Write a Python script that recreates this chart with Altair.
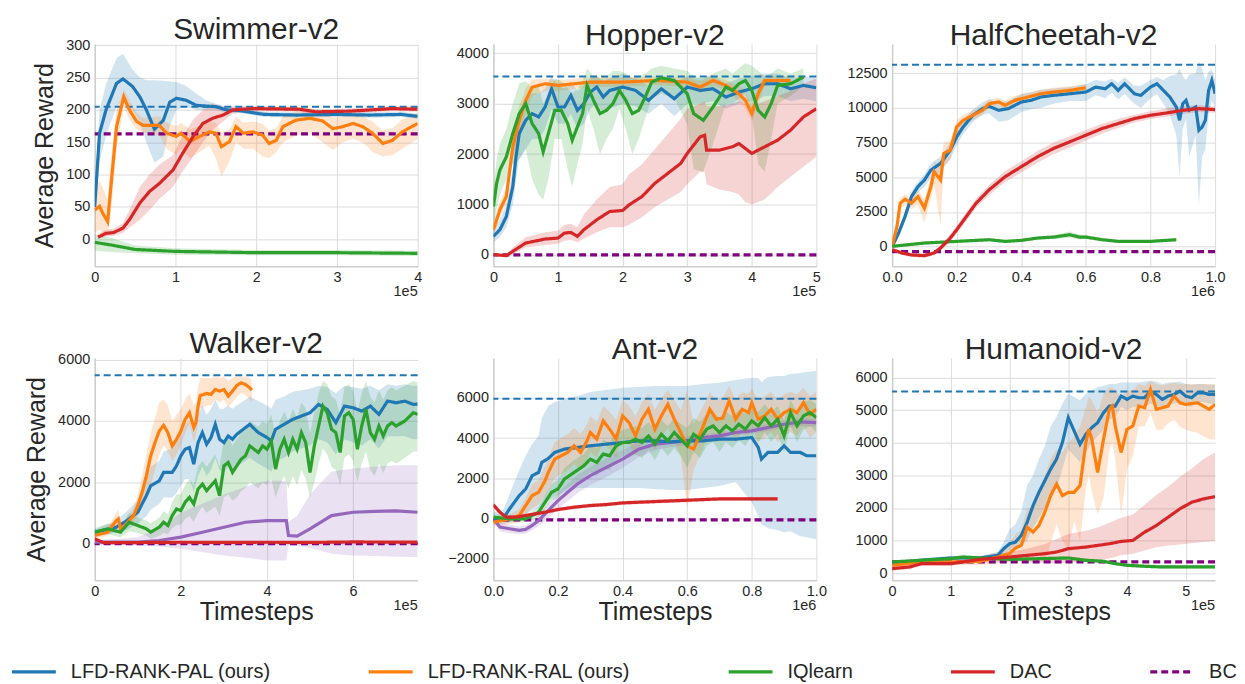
import altair as alt
import pandas as pd

FONT = "Liberation Sans"
TXT = "#262626"
METHODS = ["LFD-RANK-PAL (ours)", "LFD-RANK-RAL (ours)", "IQlearn", "DAC", "BC"]
COLORS = ["#1f77b4", "#ff7f0e", "#2ca02c", "#d62728", "#800080"]
DASHES = [[1, 0], [1, 0], [1, 0], [1, 0], [7, 4]]
WIDTHS = [3.2, 3.2, 3.2, 3.2, 2]
OTHER_COLOR = "#9467bd"
EXPERT_COLOR = "#1f77b4"

# ---------------- Swimmer-v2 (x in 1e5 steps) ----------------
SW_PAL_X = [0, 0.06, 0.14, 0.27, 0.35, 0.47, 0.56, 0.64, 0.74, 0.85, 0.93, 1.01, 1.13, 1.26, 1.38, 1.5, 1.63, 1.79, 2.1, 2.5, 3.0, 3.4, 3.8, 4.0]
SW_PAL = [50, 164, 200, 241, 248, 236, 220, 200, 170, 184, 212, 218, 215, 207, 206, 205, 200, 199, 193, 192, 193, 192, 193, 190]
SW_PAL_LO = [30, 120, 160, 205, 215, 200, 180, 150, 118, 128, 175, 200, 205, 200, 200, 200, 196, 195, 189, 188, 189, 188, 189, 186]
SW_PAL_HI = [65, 200, 240, 280, 287, 262, 250, 246, 246, 245, 244, 243, 237, 225, 215, 210, 205, 203, 197, 196, 197, 196, 197, 194]
SW_RAL_X = [0, 0.06, 0.1, 0.16, 0.2, 0.27, 0.36, 0.43, 0.52, 0.6, 0.8, 0.89, 1.01, 1.07, 1.18, 1.3, 1.42, 1.5, 1.57, 1.67, 1.75, 1.84, 1.96, 2.08, 2.16, 2.25, 2.33, 2.49, 2.66, 2.82, 2.95, 3.07, 3.2, 3.32, 3.44, 3.57, 3.69, 3.81, 4.0]
SW_RAL = [45, 51, 40, 27, 81, 174, 220, 200, 182, 176, 176, 164, 159, 164, 151, 159, 166, 164, 143, 151, 174, 164, 166, 161, 148, 153, 174, 184, 187, 183, 171, 174, 179, 174, 164, 148, 153, 166, 179]
SW_RAL_LO = [10, 15, 10, 5, 40, 140, 205, 185, 170, 165, 160, 140, 130, 140, 125, 135, 145, 125, 97, 120, 150, 140, 140, 128, 125, 135, 150, 160, 165, 150, 138, 150, 155, 150, 135, 128, 130, 140, 155]
SW_RAL_HI = [85, 90, 80, 60, 120, 200, 232, 215, 195, 188, 190, 180, 175, 180, 170, 175, 182, 180, 165, 170, 190, 180, 182, 178, 168, 172, 190, 198, 200, 197, 188, 190, 195, 190, 182, 168, 172, 185, 195]
SW_IQ_X = [0, 0.2, 0.5, 1.0, 2.0, 3.0, 4.0]
SW_IQ = [-5, -9, -16, -19, -21, -21, -22]
SW_IQ_LO = [-18, -20, -22, -24, -25, -25, -26]
SW_IQ_HI = [8, 2, -10, -14, -17, -17, -18]
SW_DAC_X = [0.04, 0.14, 0.23, 0.35, 0.43, 0.56, 0.68, 0.8, 0.97, 1.09, 1.22, 1.34, 1.46, 1.59, 1.71, 1.96, 2.54, 2.74, 3.15, 3.69, 4.0]
SW_DAC = [3, 9, 10, 17, 30, 56, 74, 86, 107, 133, 159, 179, 187, 192, 200, 202, 201, 197, 198, 202, 201]
SW_DAC_LO = [0, 4, 5, 10, 18, 30, 45, 62, 81, 105, 128, 150, 169, 182, 194, 198, 197, 193, 194, 198, 197]
SW_DAC_HI = [8, 14, 16, 25, 45, 81, 100, 115, 130, 160, 185, 200, 210, 205, 206, 206, 205, 201, 202, 206, 205]
SW_EXPERT, SW_BC = 205, 163

# ---------------- Hopper-v2 (x in 1e5) ----------------
HO_PAL_X = [0, 0.1, 0.2, 0.3, 0.35, 0.4, 0.5, 0.6, 0.7, 0.8, 0.9, 1.0, 1.1, 1.2, 1.3, 1.4, 1.5, 1.6, 1.7, 1.8, 2.0, 2.2, 2.4, 2.6, 2.8, 3.0, 3.2, 3.4, 3.6, 3.8, 4.0, 4.2, 4.4, 4.6, 4.8, 5.0]
HO_PAL = [368, 500, 763, 1355, 1947, 2408, 2671, 2803, 2737, 2934, 3296, 2934, 2934, 3164, 2868, 3000, 3230, 3329, 3131, 3263, 3329, 3263, 3066, 3296, 3098, 3329, 3263, 3296, 3131, 3230, 3296, 3395, 3395, 3296, 3362, 3316]
HO_PAL_LO = [250, 350, 550, 1000, 1500, 1900, 2100, 2300, 2300, 2500, 2900, 2600, 2600, 2800, 2500, 2600, 2900, 3000, 2800, 2900, 3000, 2950, 2800, 3000, 2750, 3000, 3000, 3050, 2900, 3000, 3050, 3150, 3150, 3050, 3100, 3050]
HO_PAL_HI = [500, 700, 1000, 1700, 2400, 2800, 3100, 3200, 3200, 3300, 3550, 3350, 3300, 3450, 3250, 3350, 3500, 3550, 3450, 3500, 3600, 3500, 3350, 3550, 3400, 3550, 3500, 3550, 3400, 3500, 3550, 3600, 3600, 3500, 3550, 3500]
HO_RAL_X = [0, 0.1, 0.2, 0.3, 0.4, 0.5, 0.6, 0.8, 1.0, 1.5, 2.0, 2.5, 3.0, 3.2, 3.4, 3.6, 3.8, 3.9, 4.0, 4.1, 4.2, 4.6]
HO_RAL = [500, 895, 1158, 2145, 2671, 3066, 3329, 3395, 3362, 3428, 3428, 3460, 3428, 3329, 3460, 3362, 3197, 3066, 2803, 3197, 3460, 3460]
HO_RAL_LO = [400, 750, 1000, 1900, 2400, 2800, 3150, 3250, 3250, 3330, 3330, 3370, 3330, 3200, 3360, 3250, 3050, 2900, 2650, 3000, 3350, 3380]
HO_RAL_HI = [650, 1050, 1350, 2400, 2950, 3300, 3480, 3500, 3470, 3520, 3520, 3540, 3520, 3450, 3560, 3470, 3350, 3250, 3000, 3350, 3550, 3540]
HO_IQ_X = [0, 0.05, 0.1, 0.2, 0.3, 0.4, 0.5, 0.6, 0.7, 0.77, 0.85, 0.95, 1.05, 1.15, 1.22, 1.3, 1.38, 1.45, 1.55, 1.65, 1.75, 1.85, 1.95, 2.05, 2.15, 2.25, 2.35, 2.45, 2.6, 2.8, 3.0, 3.1, 3.25, 3.4, 3.5, 3.6, 3.7, 3.8, 3.9, 4.0, 4.1, 4.2, 4.3, 4.4, 4.6, 4.8]
HO_IQ = [960, 1421, 1684, 1947, 2408, 2803, 3000, 2605, 2408, 2046, 2408, 2868, 2868, 2605, 2276, 2539, 2803, 3362, 3066, 2803, 2868, 3000, 3263, 3066, 2803, 2868, 3131, 3428, 3513, 3460, 3197, 2803, 2671, 2934, 3131, 3329, 3263, 3395, 3460, 3263, 2868, 2737, 3000, 3362, 3395, 3526]
HO_IQ_LO = [600, 900, 1200, 1500, 1800, 1900, 2100, 1500, 1200, 1100, 1500, 2300, 2300, 1700, 1350, 1800, 2200, 2900, 2500, 2000, 2300, 2500, 2900, 2500, 2000, 2300, 2700, 3100, 3200, 3100, 2600, 1700, 1650, 2200, 2600, 3000, 3000, 3100, 3200, 2800, 1800, 1650, 2300, 3000, 3150, 3350]
HO_IQ_HI = [1300, 1900, 2200, 2500, 3000, 3400, 3450, 3300, 3350, 3000, 3200, 3500, 3450, 3300, 3200, 3300, 3450, 3700, 3550, 3500, 3550, 3650, 3650, 3600, 3500, 3550, 3600, 3700, 3750, 3700, 3650, 3550, 3500, 3600, 3650, 3700, 3600, 3700, 3800, 3750, 3650, 3550, 3600, 3700, 3600, 3700]
HO_DAC_X = [0, 0.2, 0.3, 0.5, 0.8, 1.0, 1.1, 1.2, 1.3, 1.4, 1.6, 1.8, 2.0, 2.1, 2.3, 2.5, 2.7, 2.9, 3.0, 3.2, 3.27, 3.3, 3.5, 3.7, 3.8, 3.9, 4.0, 4.2, 4.4, 4.6, 4.8, 5.0]
HO_DAC = [7, -13, 72, 237, 316, 335, 434, 447, 368, 500, 697, 862, 882, 993, 1158, 1421, 1618, 1816, 2013, 2342, 2375, 2079, 2079, 2145, 2210, 2112, 2013, 2145, 2276, 2474, 2737, 2901]
HO_DAC_LO = [0, -20, 20, 150, 200, 220, 280, 300, 250, 320, 450, 550, 550, 600, 750, 950, 1100, 1250, 1400, 1650, 1650, 1400, 1300, 1250, 1200, 1050, 1000, 1100, 1350, 1550, 1750, 1950]
HO_DAC_HI = [20, 10, 150, 350, 450, 480, 600, 620, 550, 800, 1100, 1350, 1400, 1600, 1800, 2100, 2400, 2700, 2900, 3000, 3050, 2950, 2950, 3000, 3050, 3000, 2950, 3050, 3150, 3250, 3400, 3500]
HO_EXPERT, HO_BC = 3539, 0

# ---------------- HalfCheetah-v2 (x in 1e6) ----------------
HC_PAL_X = [0, 0.02, 0.04, 0.06, 0.08, 0.1, 0.12, 0.15, 0.18, 0.2, 0.22, 0.25, 0.28, 0.3, 0.33, 0.36, 0.4, 0.43, 0.46, 0.5, 0.55, 0.6, 0.63, 0.66, 0.68, 0.7, 0.72, 0.75, 0.77, 0.8, 0.82, 0.84, 0.86, 0.88, 0.89, 0.9, 0.91, 0.92, 0.94, 0.95, 0.96, 0.97, 0.98, 0.99, 1.0]
HC_PAL = [0, 980, 2175, 3609, 4326, 4804, 5521, 5999, 6955, 7911, 8628, 9465, 9943, 10110, 9823, 9943, 10421, 10540, 10779, 10899, 11018, 11138, 11496, 11377, 11735, 11257, 11735, 11018, 10899, 11496, 11735, 11257, 10779, 10062, 9106, 10301, 10540, 9823, 10062, 8389, 8628, 9106, 11257, 11974, 11018]
HC_PAL_LO = [-100, 700, 1800, 3200, 3900, 4300, 5000, 5400, 6300, 7300, 8100, 9000, 9500, 9600, 9000, 9100, 9700, 9900, 10000, 10300, 10500, 10500, 10900, 10700, 11100, 10600, 11000, 10300, 10000, 10700, 11000, 10300, 9500, 8000, 5000, 8500, 9200, 6500, 8000, 3000, 6500, 7000, 9500, 10500, 10000]
HC_PAL_HI = [100, 1300, 2500, 4000, 4700, 5200, 6000, 6500, 7500, 8400, 9100, 9900, 10400, 10600, 10400, 10500, 11000, 11100, 11300, 11400, 11500, 11700, 12000, 11900, 12100, 11800, 12200, 11600, 11600, 12000, 12200, 12000, 12300, 12400, 12800, 12300, 12000, 12400, 12500, 13400, 12800, 12000, 12600, 12800, 12000]
HC_RAL_X = [0, 0.015, 0.025, 0.04, 0.06, 0.08, 0.1, 0.12, 0.13, 0.15, 0.16, 0.18, 0.2, 0.22, 0.25, 0.28, 0.3, 0.33, 0.35, 0.38, 0.42, 0.46, 0.5, 0.55, 0.6]
HC_RAL = [0, 1458, 3131, 3418, 3131, 3609, 2772, 4326, 5402, 4804, 6716, 6955, 8628, 9106, 9465, 9823, 10301, 10421, 10182, 10540, 10779, 11018, 11138, 11257, 11448]
HC_RAL_LO = [-100, 1100, 2700, 3000, 2700, 3000, 1700, 3500, 4500, 1500, 5800, 6300, 8100, 8700, 9100, 9500, 10000, 10100, 9900, 10250, 10500, 10750, 10850, 10950, 11200]
HC_RAL_HI = [100, 1800, 3500, 3800, 3500, 4100, 3400, 5000, 6100, 6000, 7500, 7600, 9100, 9500, 9800, 10150, 10600, 10750, 10500, 10850, 11100, 11300, 11450, 11550, 11700]
HC_IQ_X = [0, 0.05, 0.1, 0.2, 0.3, 0.35, 0.4, 0.45, 0.5, 0.55, 0.58, 0.6, 0.65, 0.7, 0.8, 0.88]
HC_IQ = [24, 143, 263, 382, 502, 382, 454, 621, 693, 860, 693, 693, 502, 382, 382, 502]
HC_IQ_LO = [-80, 50, 160, 280, 400, 290, 350, 500, 560, 650, 520, 560, 400, 290, 290, 400]
HC_IQ_HI = [130, 240, 360, 480, 600, 480, 560, 740, 830, 1100, 880, 830, 620, 480, 480, 600]
HC_DAC_X = [0, 0.03, 0.06, 0.1, 0.13, 0.15, 0.18, 0.2, 0.23, 0.26, 0.3, 0.35, 0.4, 0.45, 0.5, 0.55, 0.6, 0.65, 0.7, 0.75, 0.8, 0.85, 0.9, 0.95, 1.0]
HC_DAC = [-215, -454, -597, -645, -454, -96, 621, 1219, 2175, 3131, 4087, 5043, 5760, 6477, 7075, 7553, 8031, 8509, 8868, 9226, 9465, 9632, 9823, 9943, 9871]
HC_DAC_LO = [-300, -600, -750, -800, -620, -300, 350, 950, 1850, 2800, 3700, 4650, 5350, 6050, 6650, 7150, 7650, 8150, 8550, 8950, 9200, 9350, 9550, 9700, 9650]
HC_DAC_HI = [-100, -300, -450, -500, -300, 100, 900, 1500, 2500, 3450, 4450, 5450, 6150, 6900, 7500, 7950, 8400, 8850, 9200, 9500, 9750, 9950, 10100, 10200, 10100]
HC_EXPERT, HC_BC = 13097, -358

# ---------------- Walker-v2 (x in 1e5) ----------------
WA_PAL_X = [0, 0.5, 0.75, 1.0, 1.2, 1.3, 1.5, 1.6, 1.8, 1.9, 2.0, 2.1, 2.2, 2.3, 2.4, 2.5, 2.6, 2.7, 2.8, 2.9, 3.0, 3.1, 3.2, 3.3, 3.4, 3.6, 3.8, 4.0, 4.1, 4.2, 4.4, 4.6, 4.8, 5.0, 5.2, 5.4, 5.6, 5.8, 6.0, 6.2, 6.4, 6.6, 6.8, 7.0, 7.2, 7.4, 7.5]
WA_PAL = [368, 531, 747, 1018, 1560, 1885, 2047, 2318, 2318, 2534, 2859, 3076, 3130, 2589, 3293, 3617, 3238, 3455, 3888, 3401, 3293, 3509, 3401, 3563, 3672, 3888, 3617, 3455, 3347, 3726, 3888, 4051, 4159, 4267, 4538, 4376, 3942, 4484, 4430, 4321, 4484, 4213, 4646, 4592, 4646, 4538, 4550]
WA_PAL_LO = [250, 350, 450, 650, 900, 1100, 1300, 1500, 1500, 1650, 1900, 2100, 2100, 1700, 2200, 2500, 2200, 2400, 2800, 2400, 2300, 2500, 2400, 2500, 2600, 2800, 2600, 2450, 2350, 2700, 2800, 3000, 3100, 3200, 3400, 3300, 2900, 3400, 3300, 3200, 3400, 3100, 3500, 3500, 3500, 3400, 3400]
WA_PAL_HI = [450, 750, 1050, 1400, 2100, 2500, 2700, 3000, 3100, 3400, 3700, 3900, 4000, 3600, 4200, 4500, 4200, 4400, 4700, 4400, 4400, 4500, 4400, 4500, 4600, 4800, 4650, 4500, 4400, 4700, 4800, 4950, 5000, 5050, 5150, 5100, 4900, 5150, 5100, 5050, 5150, 5000, 5200, 5150, 5200, 5150, 5150]
WA_RAL_X = [0, 0.3, 0.5, 0.55, 0.6, 0.7, 0.9, 1.0, 1.1, 1.2, 1.3, 1.4, 1.5, 1.6, 1.7, 1.8, 1.9, 2.0, 2.1, 2.2, 2.3, 2.35, 2.4, 2.45, 2.6, 2.7, 2.8, 2.9, 3.0, 3.1, 3.2, 3.3, 3.4, 3.5, 3.6, 3.65]
WA_RAL = [260, 368, 747, 801, 477, 585, 910, 1235, 1668, 2209, 2859, 3293, 3672, 3856, 3617, 3184, 3401, 3672, 4051, 4267, 3780, 3942, 4484, 4830, 4895, 4863, 5025, 4971, 5025, 4809, 4971, 5155, 5242, 5188, 5079, 5004]
WA_RAL_LO = [150, 250, 500, 550, 350, 450, 700, 900, 1200, 1600, 1900, 2400, 2900, 3200, 3000, 2700, 2900, 3200, 3600, 3900, 3300, 3500, 4000, 4400, 4500, 4500, 4700, 4600, 4700, 4450, 4600, 4800, 4900, 4850, 4700, 4600]
WA_RAL_HI = [400, 500, 1000, 1100, 650, 750, 1150, 1600, 2200, 2900, 3600, 4100, 4600, 4700, 4500, 4000, 4200, 4400, 4700, 4900, 4500, 4600, 5100, 5400, 5400, 5400, 5450, 5400, 5450, 5300, 5400, 5450, 5450, 5450, 5400, 5350]
WA_IQ_X = [0, 0.3, 0.6, 0.8, 1.0, 1.2, 1.3, 1.5, 1.6, 1.7, 1.8, 1.9, 2.0, 2.1, 2.2, 2.3, 2.4, 2.5, 2.6, 2.7, 2.8, 2.9, 3.0, 3.1, 3.2, 3.3, 3.4, 3.5, 3.6, 3.7, 3.8, 3.9, 4.0, 4.1, 4.2, 4.3, 4.4, 4.5, 4.6, 4.7, 4.8, 4.9, 5.0, 5.1, 5.2, 5.3, 5.4, 5.5, 5.6, 5.7, 5.8, 5.9, 6.0, 6.1, 6.2, 6.3, 6.4, 6.5, 6.6, 6.7, 6.8, 6.9, 7.0, 7.2, 7.4, 7.5]
WA_IQ = [368, 477, 368, 693, 585, 477, 368, 531, 693, 585, 910, 1126, 1072, 1343, 1505, 1289, 1776, 1939, 1722, 1885, 2047, 1560, 2534, 2643, 2318, 2534, 2751, 2859, 3184, 3076, 2968, 3184, 3076, 3347, 2426, 3076, 3401, 2968, 3401, 3076, 3617, 3293, 2318, 3184, 3834, 4484, 4267, 3726, 3617, 2968, 4159, 4267, 4051, 3076, 3834, 4376, 3617, 3401, 3834, 3509, 3834, 3942, 3834, 3996, 4267, 4213]
WA_IQ_LO = [250, 300, 200, 400, 350, 250, 150, 250, 350, 300, 500, 600, 600, 800, 900, 700, 1000, 1200, 1000, 1100, 1200, 900, 1500, 1600, 1400, 1500, 1700, 1800, 2000, 1900, 1800, 2000, 1900, 2100, 1500, 1900, 2200, 1800, 2200, 1900, 2400, 2100, 1500, 2000, 2600, 3100, 2900, 2500, 2400, 1900, 2800, 2900, 2700, 2000, 2600, 3000, 2400, 2200, 2600, 2300, 2600, 2700, 2600, 2800, 3000, 3000]
WA_IQ_HI = [500, 650, 550, 1000, 850, 750, 650, 850, 1050, 950, 1350, 1600, 1600, 1900, 2100, 1900, 2500, 2700, 2500, 2700, 2900, 2500, 3400, 3500, 3200, 3400, 3600, 3700, 4000, 3900, 3800, 4000, 3900, 4200, 3500, 4000, 4300, 4000, 4400, 4100, 4600, 4400, 3600, 4300, 4900, 5300, 5200, 4800, 4700, 4200, 5100, 5200, 5000, 4300, 4900, 5300, 4800, 4600, 5000, 4700, 5000, 5100, 5000, 5150, 5300, 5250]
WA_DAC_X = [0, 0.2, 1.0, 2.0, 3.0, 4.0, 5.0, 6.0, 7.0, 7.5]
WA_DAC = [152, 30, 30, 40, 35, 40, 35, 50, 45, 45]
WA_DAC_LO = [100, 0, 0, 10, 5, 10, 5, 20, 15, 15]
WA_DAC_HI = [200, 60, 60, 70, 65, 70, 65, 80, 75, 75]
WA_OTH_X = [0, 1.0, 1.5, 2.0, 2.5, 3.0, 3.5, 4.0, 4.45, 4.5, 4.7, 5.0, 5.5, 6.0, 6.5, 7.0, 7.5]
WA_OTH = [43, 43, 97, 206, 368, 531, 693, 747, 747, 260, 238, 477, 910, 1018, 1050, 1061, 1018]
WA_OTH_LO = [-20, -65, -100, -173, -280, -390, -470, -552, -560, -65, -80, -150, -336, -390, -410, -430, -444]
WA_OTH_HI = [100, 200, 500, 1000, 1300, 1600, 1850, 2047, 2050, 700, 900, 1600, 2350, 2450, 2500, 2550, 2550]
WA_EXPERT, WA_BC = 5491, -10

# ---------------- Ant-v2 (x in 1e6) ----------------
AN_PAL_X = [0, 0.03, 0.05, 0.08, 0.1, 0.12, 0.14, 0.15, 0.17, 0.19, 0.22, 0.26, 0.3, 0.35, 0.4, 0.45, 0.5, 0.55, 0.6, 0.65, 0.7, 0.75, 0.8, 0.82, 0.83, 0.85, 0.88, 0.9, 0.92, 0.95, 0.97, 1.0]
AN_PAL = [-33, -33, 464, 1127, 1459, 2122, 2287, 2785, 2984, 3282, 3448, 3531, 3613, 3696, 3779, 3862, 3862, 3812, 3862, 3862, 3945, 3945, 4028, 3531, 2950, 3282, 3282, 3613, 3282, 3282, 3116, 3116]
AN_PAL_LO = [-300, -300, -200, 0, 200, 400, 500, 700, 900, 1100, 1300, 1500, 1500, 1500, 1500, 1500, 1450, 1400, 1400, 1500, 1600, 1800, 800, 100, -300, -500, -600, -700, -650, -900, -950, -1050]
AN_PAL_HI = [300, 400, 1200, 2400, 3116, 3700, 4111, 5000, 5603, 5800, 5934, 6100, 6300, 6400, 6514, 6550, 6597, 6600, 6600, 6700, 6763, 6900, 7011, 7000, 6800, 7050, 7100, 7094, 7200, 7250, 7300, 7343]
AN_RAL_X = [0, 0.05, 0.08, 0.1, 0.12, 0.14, 0.16, 0.17, 0.19, 0.21, 0.23, 0.25, 0.27, 0.29, 0.3, 0.32, 0.34, 0.36, 0.38, 0.4, 0.42, 0.44, 0.46, 0.48, 0.5, 0.52, 0.54, 0.56, 0.58, 0.6, 0.62, 0.65, 0.67, 0.69, 0.71, 0.73, 0.75, 0.77, 0.79, 0.8, 0.82, 0.84, 0.86, 0.88, 0.9, 0.92, 0.94, 0.96, 0.98, 1.0]
AN_RAL = [-199, -33, 133, 630, 1127, 1293, 1873, 2287, 2950, 3116, 3282, 3613, 3282, 3862, 4276, 3945, 4857, 4442, 3945, 5105, 4774, 4111, 4940, 5437, 4442, 5105, 5686, 4940, 4276, 3613, 3448, 4608, 5437, 4940, 5000, 5851, 4940, 5437, 5271, 5768, 4940, 5105, 5437, 4940, 5271, 5437, 5271, 5768, 5188, 5437]
AN_RAL_LO = [-400, -300, -200, 200, 500, 700, 1100, 1400, 2000, 2200, 2400, 2700, 2400, 2900, 3300, 3000, 3800, 3400, 3000, 4000, 3700, 3100, 3800, 4300, 3400, 4000, 4500, 3800, 3100, 500, 2400, 3500, 4300, 3800, 3900, 4700, 3800, 4300, 4100, 4600, 3800, 4000, 4300, 3800, 4100, 4300, 4100, 4600, 4000, 4300]
AN_RAL_HI = [100, 200, 450, 1000, 1700, 1900, 2600, 3000, 3800, 4000, 4200, 4500, 4200, 4700, 5100, 4800, 5600, 5300, 4900, 5900, 5600, 5100, 5800, 6200, 5400, 6000, 6400, 5900, 5400, 6400, 4700, 5600, 6300, 5900, 6000, 6600, 5900, 6300, 6200, 6500, 5900, 6100, 6300, 5900, 6200, 6300, 6200, 6500, 6100, 6300]
AN_IQ_X = [0, 0.05, 0.1, 0.14, 0.16, 0.18, 0.2, 0.22, 0.25, 0.28, 0.3, 0.32, 0.34, 0.36, 0.38, 0.4, 0.42, 0.44, 0.46, 0.48, 0.5, 0.52, 0.54, 0.56, 0.58, 0.6, 0.62, 0.64, 0.66, 0.68, 0.7, 0.72, 0.74, 0.76, 0.78, 0.8, 0.82, 0.84, 0.86, 0.88, 0.9, 0.92, 0.94, 0.96, 0.98, 1.0]
AN_IQ = [50, -33, -33, 298, 796, 1293, 1459, 1956, 2287, 2619, 2950, 2785, 3199, 3116, 3613, 3779, 3779, 3945, 3779, 4111, 3696, 4194, 3862, 4276, 3945, 3613, 4194, 3945, 4442, 4608, 4276, 4608, 4359, 4691, 4442, 4857, 4608, 5022, 4608, 4940, 4111, 5271, 4608, 5105, 5271, 5022]
AN_IQ_LO = [-100, -200, -200, 50, 450, 900, 1000, 1400, 1700, 2000, 2300, 2100, 2500, 2400, 2900, 3100, 3000, 3200, 3000, 3400, 2900, 3500, 3100, 3500, 3100, 2500, 3300, 3000, 3600, 3800, 3300, 3800, 3500, 3900, 3600, 4100, 3800, 4300, 3800, 4200, 3300, 4600, 3800, 4400, 4600, 4300]
AN_IQ_HI = [200, 150, 150, 550, 1150, 1700, 1900, 2500, 2900, 3200, 3600, 3500, 3900, 3800, 4300, 4400, 4500, 4600, 4500, 4800, 4400, 4900, 4600, 5000, 4700, 4500, 5000, 4800, 5200, 5300, 5000, 5300, 5100, 5400, 5200, 5500, 5300, 5700, 5300, 5600, 4900, 5900, 5300, 5800, 5900, 5700]
AN_DAC_X = [0, 0.02, 0.04, 0.07, 0.1, 0.13, 0.16, 0.2, 0.25, 0.3, 0.35, 0.4, 0.5, 0.6, 0.7, 0.8, 0.88]
AN_DAC = [663, 298, 50, 50, 133, 215, 298, 431, 547, 630, 680, 762, 829, 895, 961, 961, 961]
AN_DAC_LO = [550, 200, -30, -30, 50, 130, 210, 340, 450, 530, 580, 660, 730, 800, 870, 870, 870]
AN_DAC_HI = [780, 400, 130, 130, 220, 300, 390, 520, 640, 730, 780, 860, 930, 990, 1050, 1050, 1050]
AN_OTH_X = [0, 0.02, 0.05, 0.08, 0.1, 0.12, 0.14, 0.16, 0.18, 0.2, 0.23, 0.26, 0.3, 0.35, 0.4, 0.45, 0.5, 0.55, 0.6, 0.65, 0.7, 0.75, 0.8, 0.85, 0.9, 0.95, 1.0]
AN_OTH = [-33, -448, -530, -613, -563, -365, -116, 215, 547, 878, 1293, 1707, 2122, 2536, 2950, 3448, 3696, 3779, 3862, 4028, 4111, 4276, 4359, 4525, 4691, 4807, 4774]
AN_OTH_LO = [-150, -650, -750, -800, -780, -600, -400, -150, 150, 450, 850, 1250, 1650, 2050, 2500, 3050, 3400, 3550, 3650, 3850, 3950, 4100, 4200, 4350, 4500, 4600, 4580]
AN_OTH_HI = [100, -250, -330, -420, -350, -150, 150, 550, 900, 1250, 1700, 2150, 2550, 3000, 3400, 3800, 3950, 4000, 4080, 4200, 4280, 4450, 4520, 4700, 4860, 4990, 4960]
AN_EXPERT, AN_BC = 5960, -83

# ---------------- Humanoid-v2 (x in 1e5) ----------------
HU_PAL_X = [0, 0.5, 1.0, 1.5, 1.8, 1.9, 2.0, 2.1, 2.2, 2.3, 2.4, 2.5, 2.6, 2.7, 2.8, 2.9, 3.0, 3.1, 3.2, 3.3, 3.4, 3.5, 3.6, 3.7, 3.8, 3.9, 4.0, 4.1, 4.2, 4.3, 4.4, 4.5, 4.6, 4.7, 4.8, 4.9, 5.0, 5.1, 5.2, 5.3, 5.4, 5.5]
HU_PAL = [295, 397, 468, 468, 549, 753, 905, 956, 1159, 1566, 2075, 2481, 2837, 3193, 3498, 4007, 4770, 4363, 3956, 4261, 4464, 4617, 4922, 5125, 5125, 5431, 5329, 5431, 5380, 5380, 5583, 5481, 5329, 5431, 5481, 5583, 5431, 5380, 5532, 5532, 5481, 5481]
HU_PAL_LO = [220, 330, 400, 400, 450, 550, 650, 700, 850, 1000, 1400, 1700, 2000, 2300, 2600, 3200, 3800, 3600, 3400, 3700, 4000, 4200, 4400, 4700, 4800, 5100, 5000, 5100, 5100, 5100, 5200, 5150, 5050, 5150, 5200, 5250, 5150, 5100, 5250, 5250, 5200, 5200]
HU_PAL_HI = [370, 460, 540, 540, 650, 950, 1350, 1500, 1900, 2700, 3000, 3500, 3900, 4500, 4800, 5200, 5500, 5400, 5300, 5500, 5600, 5700, 5750, 5800, 5800, 5850, 5850, 5850, 5850, 5880, 5900, 5880, 5800, 5850, 5850, 5880, 5800, 5780, 5800, 5800, 5780, 5780]
HU_RAL_X = [0, 0.5, 1.0, 1.5, 1.8, 2.0, 2.1, 2.2, 2.3, 2.4, 2.5, 2.6, 2.7, 2.8, 2.9, 3.0, 3.1, 3.2, 3.3, 3.35, 3.4, 3.5, 3.6, 3.7, 3.75, 3.8, 3.9, 4.0, 4.1, 4.2, 4.3, 4.4, 4.5, 4.6, 4.7, 4.8, 4.9, 5.0, 5.2, 5.4, 5.5]
HU_RAL = [244, 346, 346, 366, 498, 600, 773, 854, 1413, 1261, 1464, 1871, 2380, 2736, 2380, 2481, 2481, 2685, 4007, 4414, 4109, 3091, 4109, 5024, 5125, 4515, 3702, 4414, 4515, 5125, 5075, 5634, 5024, 5075, 5125, 5431, 5227, 5176, 5227, 5024, 5176]
HU_RAL_LO = [150, 250, 250, 250, 300, 350, 400, 450, 600, 500, 600, 300, 900, 1500, 1000, 700, 1600, 1000, 2600, 3000, 2500, 1800, 2300, 3800, 4000, 3500, 1800, 3200, 3600, 4500, 4500, 4900, 4400, 4400, 4600, 4700, 4500, 4400, 4300, 4100, 4100]
HU_RAL_HI = [350, 450, 450, 480, 650, 900, 1200, 1300, 2000, 2000, 2400, 3000, 3500, 3800, 3700, 4000, 4200, 4500, 5100, 5400, 5300, 4900, 5500, 5700, 5700, 5600, 5400, 5600, 5600, 5800, 5750, 5900, 5800, 5750, 5800, 5850, 5800, 5800, 5800, 5800, 5800]
HU_IQ_X = [0, 0.5, 1.0, 1.2, 1.5, 2.0, 2.5, 3.0, 3.3, 3.6, 3.8, 4.0, 4.3, 4.6, 5.0, 5.5]
HU_IQ = [346, 397, 447, 498, 468, 427, 447, 468, 397, 366, 295, 244, 214, 193, 193, 193]
HU_IQ_LO = [290, 340, 390, 440, 410, 370, 390, 410, 340, 310, 240, 190, 160, 140, 140, 140]
HU_IQ_HI = [400, 450, 500, 550, 520, 480, 500, 520, 450, 420, 350, 300, 270, 250, 250, 250]
HU_DAC_X = [0, 0.3, 0.5, 1.0, 1.2, 1.5, 2.0, 2.3, 2.6, 2.8, 3.0, 3.3, 3.5, 3.7, 3.9, 4.1, 4.3, 4.5, 4.7, 4.9, 5.1, 5.3, 5.5]
HU_DAC = [142, 193, 295, 295, 346, 427, 498, 549, 600, 651, 753, 803, 854, 905, 976, 1007, 1261, 1464, 1719, 1973, 2176, 2278, 2349]
HU_DAC_LO = [80, 130, 230, 230, 280, 340, 370, 350, 320, 300, 320, 350, 400, 450, 550, 600, 700, 800, 850, 880, 920, 960, 1000]
HU_DAC_HI = [200, 260, 360, 360, 410, 520, 650, 750, 900, 1050, 1200, 1300, 1400, 1550, 1700, 1800, 2100, 2400, 2650, 2950, 3200, 3500, 3700]
HU_EXPERT, HU_BC = 5573, 346

# ---------------- layout / style ----------------
W, H = 324, 223
LEG = alt.Legend(title=None, orient="none", legendX=-74, legendY=617, direction="horizontal",
                 symbolType="M-2,0H2", symbolSize=484, labelFontSize=20, labelOffset=24,
                 columnPadding=91, padding=0, labelFont=FONT, labelColor=TXT, labelLimit=400)
COLOR = alt.Color("method:N", scale=alt.Scale(domain=METHODS, range=COLORS), legend=LEG, title=None)
DASH = alt.StrokeDash("method:N", scale=alt.Scale(domain=METHODS, range=DASHES), legend=LEG, title=None)
SWIDTH = alt.StrokeWidth("method:N", scale=alt.Scale(domain=METHODS, range=WIDTHS), legend=LEG, title=None)
# band fill scale: own domain (no BC) so it never merges with the line legend
FILL = alt.Fill("method:N", scale=alt.Scale(domain=METHODS[:4], range=COLORS[:4]), legend=None)


def series(method, xs, m, lo, hi):
    return pd.DataFrame({"x": xs, "y": m, "lo": lo, "hi": hi, "method": method})


def panel(title, exp_label, xdom, ydom, xticks, yticks, xfmt, data, expert, bc, other=None,
          left=False, bottom=False):
    df = pd.concat(data, ignore_index=True)
    xs = alt.Scale(domain=xdom, nice=False, zero=False)
    ys = alt.Scale(domain=ydom, nice=False, zero=False)
    xax = alt.Axis(values=xticks, format=xfmt, labelFlush=False)
    yax = alt.Axis(values=yticks, format="d")
    xt = "Timesteps" if bottom else None
    yt = "Average Reward" if left else None

    def X():
        return alt.X("x:Q", scale=xs, axis=xax, title=xt)

    def Y(f):
        return alt.Y(f + ":Q", scale=ys, axis=yax, title=yt)

    layers = []
    layers.append(alt.Chart(df).mark_area(opacity=0.2, clip=True).encode(
        x=X(), y=Y("lo"), y2="hi:Q", fill=FILL))
    if other is not None:
        layers.append(alt.Chart(other).mark_area(opacity=0.2, clip=True, color=OTHER_COLOR).encode(
            x=X(), y=Y("lo"), y2="hi:Q"))
    layers.append(alt.Chart(pd.DataFrame({"y": [expert]})).mark_rule(
        color=EXPERT_COLOR, strokeDash=[7, 4], strokeWidth=2).encode(y=Y("y")))
    layers.append(alt.Chart(pd.DataFrame({"y": [bc], "method": ["BC"]})).mark_rule().encode(
        y=Y("y"), color=COLOR, strokeDash=DASH, strokeWidth=SWIDTH))
    if other is not None:
        layers.append(alt.Chart(other).mark_line(clip=True, color=OTHER_COLOR, strokeWidth=3.2).encode(
            x=X(), y=Y("y")))
    layers.append(alt.Chart(df).mark_line(clip=True).encode(
        x=X(), y=Y("y"), color=COLOR, strokeDash=DASH, strokeWidth=SWIDTH))
    layers.append(alt.Chart(pd.DataFrame({"t": [exp_label]})).mark_text(
        align="right", baseline="middle", fontSize=14.5, font=FONT, color=TXT).encode(
        x=alt.value(W), y=alt.value(H + 26), text="t:N"))
    return alt.layer(*layers).properties(width=W, height=H, title=title)


P = METHODS
sw = panel("Swimmer-v2", "1e5", [0, 4], [-42, 302], [0, 1, 2, 3, 4], [0, 50, 100, 150, 200, 250, 300], "d",
           [series(P[0], SW_PAL_X, SW_PAL, SW_PAL_LO, SW_PAL_HI),
            series(P[1], SW_RAL_X, SW_RAL, SW_RAL_LO, SW_RAL_HI),
            series(P[2], SW_IQ_X, SW_IQ, SW_IQ_LO, SW_IQ_HI),
            series(P[3], SW_DAC_X, SW_DAC, SW_DAC_LO, SW_DAC_HI)],
           SW_EXPERT, SW_BC, left=True)
ho = panel("Hopper-v2", "1e5", [0, 5], [-224, 4184], [0, 1, 2, 3, 4, 5], [0, 1000, 2000, 3000, 4000], "d",
           [series(P[0], HO_PAL_X, HO_PAL, HO_PAL_LO, HO_PAL_HI),
            series(P[1], HO_RAL_X, HO_RAL, HO_RAL_LO, HO_RAL_HI),
            series(P[2], HO_IQ_X, HO_IQ, HO_IQ_LO, HO_IQ_HI),
            series(P[3], HO_DAC_X, HO_DAC, HO_DAC_LO, HO_DAC_HI)],
           HO_EXPERT, HO_BC)
hc = panel("HalfCheetah-v2", "1e6", [0, 1], [-1410, 14600], [0, 0.2, 0.4, 0.6, 0.8, 1.0],
           [0, 2500, 5000, 7500, 10000, 12500], ".1f",
           [series(P[0], HC_PAL_X, HC_PAL, HC_PAL_LO, HC_PAL_HI),
            series(P[1], HC_RAL_X, HC_RAL, HC_RAL_LO, HC_RAL_HI),
            series(P[2], HC_IQ_X, HC_IQ, HC_IQ_LO, HC_IQ_HI),
            series(P[3], HC_DAC_X, HC_DAC, HC_DAC_LO, HC_DAC_HI)],
           HC_EXPERT, HC_BC)
wa = panel("Walker-v2", "1e5", [0, 7.5], [-1200, 6054], [0, 2, 4, 6], [0, 2000, 4000, 6000], "d",
           [series(P[0], WA_PAL_X, WA_PAL, WA_PAL_LO, WA_PAL_HI),
            series(P[1], WA_RAL_X, WA_RAL, WA_RAL_LO, WA_RAL_HI),
            series(P[2], WA_IQ_X, WA_IQ, WA_IQ_LO, WA_IQ_HI),
            series(P[3], WA_DAC_X, WA_DAC, WA_DAC_LO, WA_DAC_HI)],
           WA_EXPERT, WA_BC, other=series("other", WA_OTH_X, WA_OTH, WA_OTH_LO, WA_OTH_HI),
           left=True, bottom=True)
an = panel("Ant-v2", "1e6", [0, 1], [-3100, 8000], [0, 0.2, 0.4, 0.6, 0.8, 1.0],
           [-2000, 0, 2000, 4000, 6000], ".1f",
           [series(P[0], AN_PAL_X, AN_PAL, AN_PAL_LO, AN_PAL_HI),
            series(P[1], AN_RAL_X, AN_RAL, AN_RAL_LO, AN_RAL_HI),
            series(P[2], AN_IQ_X, AN_IQ, AN_IQ_LO, AN_IQ_HI),
            series(P[3], AN_DAC_X, AN_DAC, AN_DAC_LO, AN_DAC_HI)],
           AN_EXPERT, AN_BC, other=series("other", AN_OTH_X, AN_OTH, AN_OTH_LO, AN_OTH_HI),
           bottom=True)
hu = panel("Humanoid-v2", "1e5", [0, 5.5], [-214, 6600], [0, 1, 2, 3, 4, 5],
           [0, 1000, 2000, 3000, 4000, 5000, 6000], "d",
           [series(P[0], HU_PAL_X, HU_PAL, HU_PAL_LO, HU_PAL_HI),
            series(P[1], HU_RAL_X, HU_RAL, HU_RAL_LO, HU_RAL_HI),
            series(P[2], HU_IQ_X, HU_IQ, HU_IQ_LO, HU_IQ_HI),
            series(P[3], HU_DAC_X, HU_DAC, HU_DAC_LO, HU_DAC_HI)],
           HU_EXPERT, HU_BC, bottom=True)

chart = alt.concat(sw, ho, hc, wa, an, hu, columns=3, spacing={"row": 92, "column": 76}, bounds="flush").properties(
    padding={"left": 13, "top": 5, "right": 0, "bottom": 0}, background="white"
).configure_view(stroke=None).configure_axis(
    grid=True, gridColor="#dcdcdc", gridWidth=1, domainColor="#cccccc", domainWidth=1.4,
    ticks=False, labelFont=FONT, labelFontSize=14.5, labelColor=TXT, labelPadding=4,
    titleFont=FONT, titleFontSize=25, titleFontWeight="normal", titleColor=TXT
).configure_axisY(titlePadding=8, labelPadding=5).configure_axisX(titlePadding=2).configure_title(
    font=FONT, fontSize=30, fontWeight="normal", color=TXT, anchor="middle", frame="group", offset=-7.5
)

chart.save("out.html", embed_options={"renderer": "svg", "actions": False})
